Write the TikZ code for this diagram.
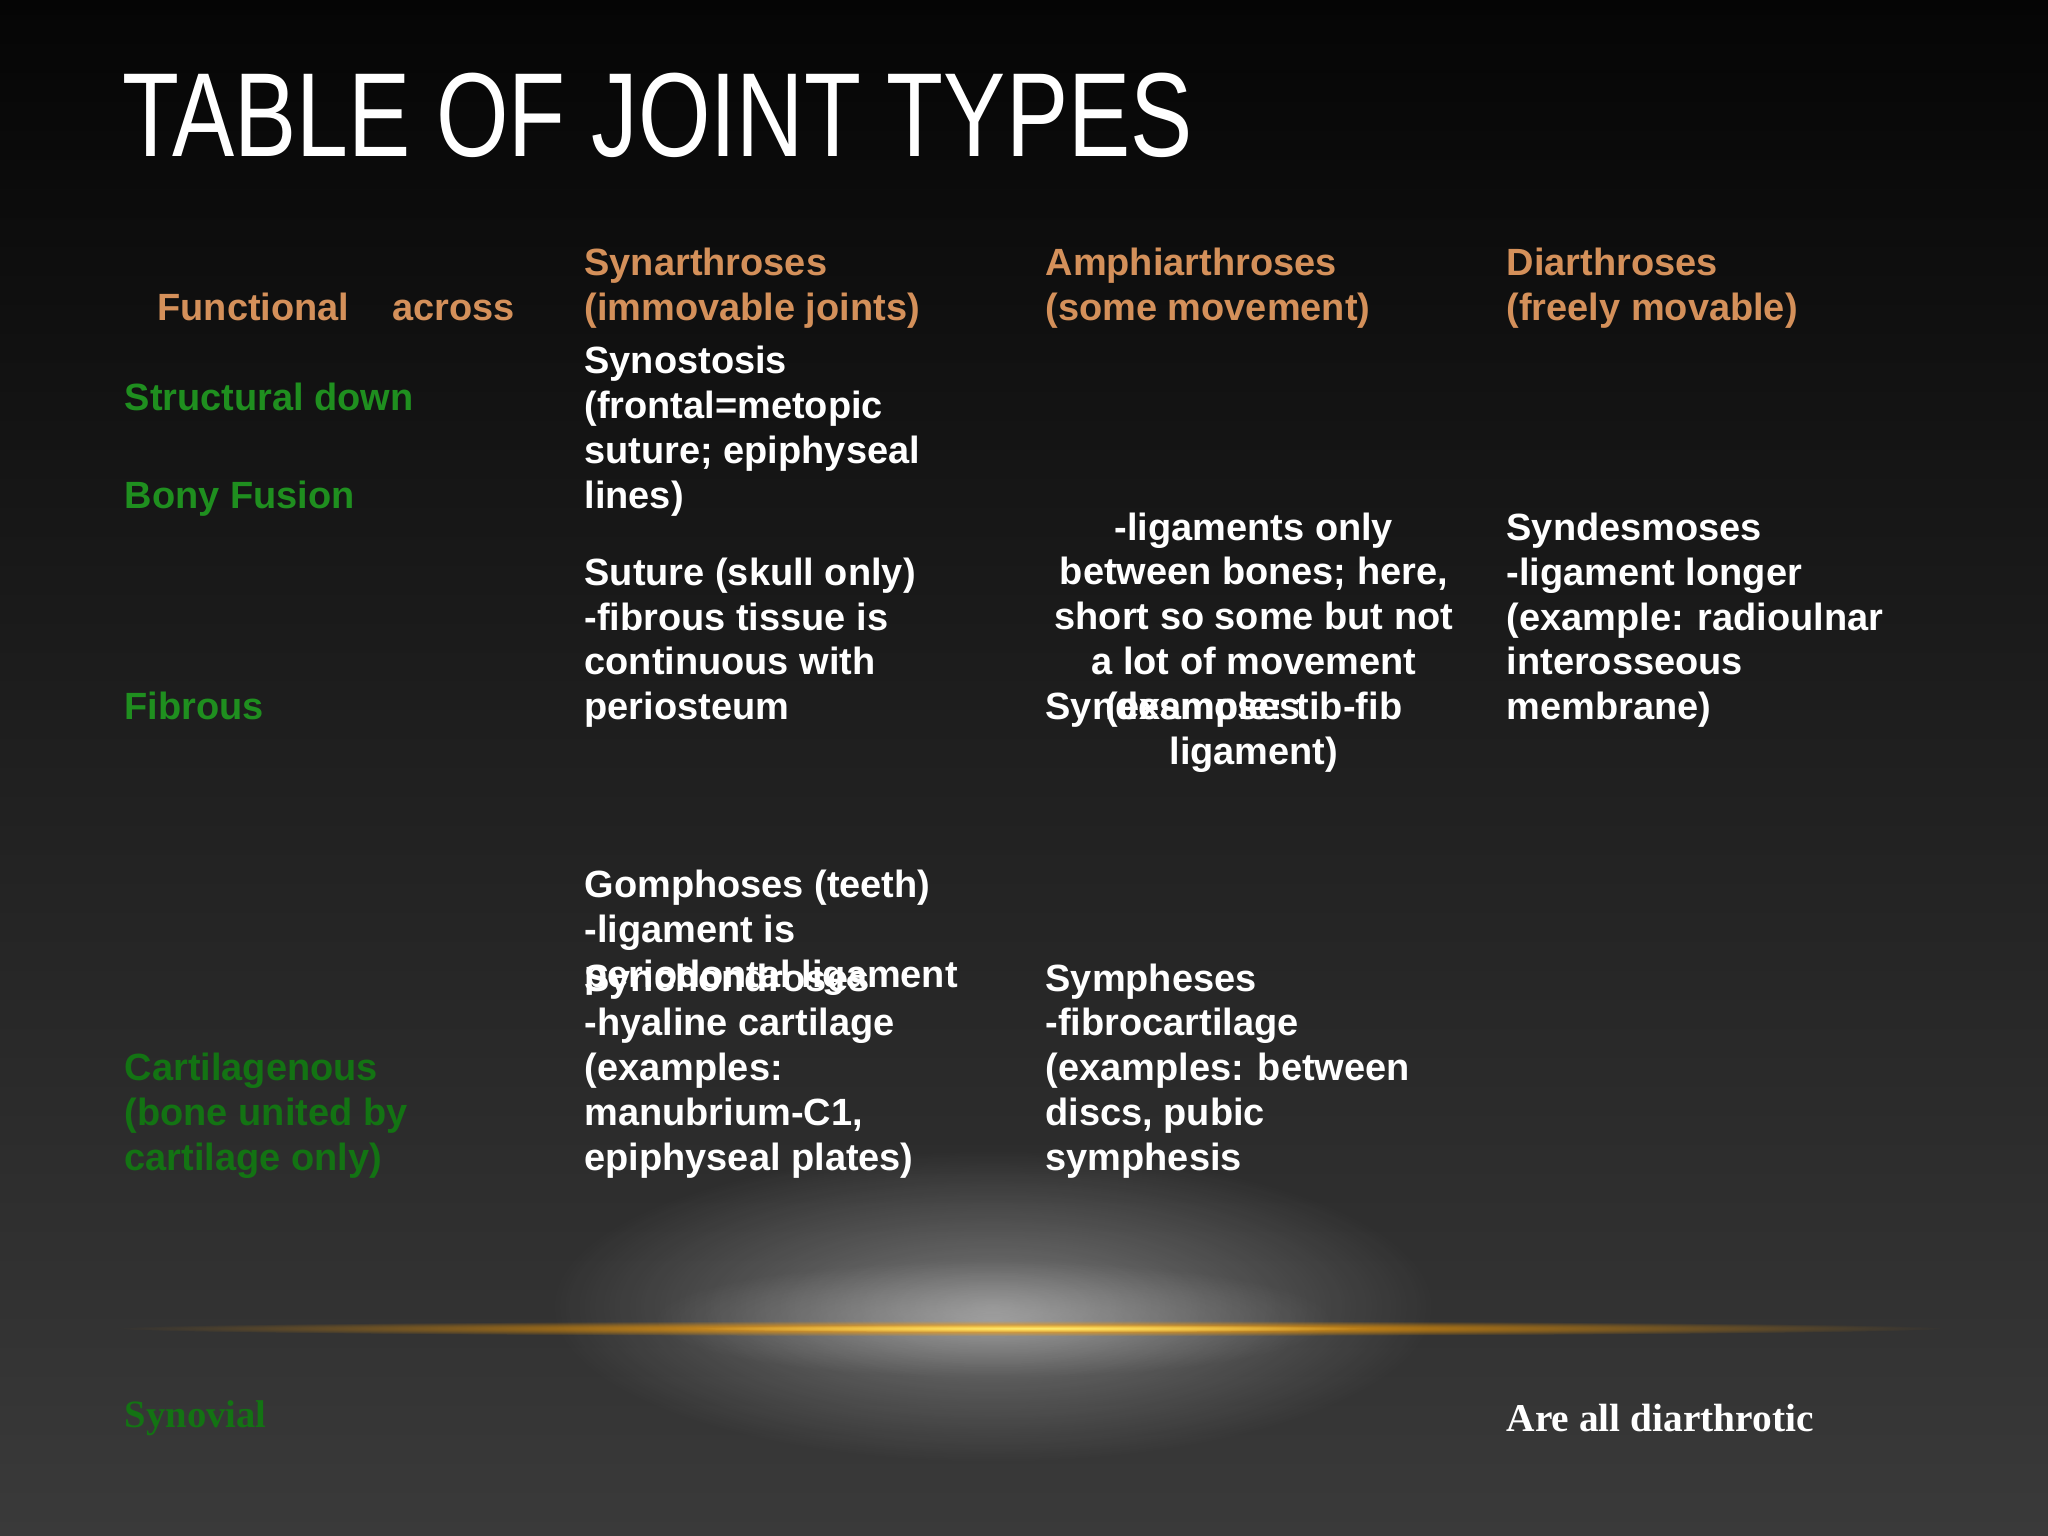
\documentclass[tikz,border=0pt]{standalone}
\usepackage{fontspec}
\setmainfont{Liberation Sans}
\newfontfamily\serifb{Liberation Serif}
\usetikzlibrary{fadings}
\tikzfading[name=glowfade, inner color=transparent!0, outer color=transparent!100]
\definecolor{tan}{HTML}{D4905A}
\definecolor{grn}{HTML}{1F8F1F}
\definecolor{dgrn}{HTML}{137313}
\definecolor{bgtop}{HTML}{050505}
\definecolor{bgbot}{HTML}{3A3A3A}
\tikzset{
  txt/.style={anchor=north west,inner sep=0pt,align=left,text height=8pt,font=\bfseries\fontsize{10.8}{12.75}\selectfont,text=white},
  hd/.style={txt,text=tan},
  sg/.style={txt,text=grn}
}
\begin{document}
\begin{tikzpicture}[x=0.013061cm,y=-0.013061cm]
\shade[top color=bgtop,bottom color=bgbot] (0,0) rectangle (1568,1176);
\useasboundingbox (0,0) rectangle (1568,1176);
% glow
\fill[white,opacity=0.35,path fading=glowfade] (760,1000) ellipse (340 and 120);
\fill[white,opacity=0.3,path fading=glowfade] (760,1010) ellipse (260 and 45);
\fill[orange!75!yellow,path fading=glowfade] (790,1017) ellipse (700 and 6);
\fill[yellow!50!white,opacity=0.9,path fading=glowfade] (790,1017) ellipse (260 and 3);
\node[anchor=west,inner sep=0pt,text=white] (title) at (93,88) {\scalebox{0.78}[1]{\fontsize{34}{34}\selectfont TABLE OF JOINT TYPES}};
\node[hd] (fa) at (120,223) {Functional};
\node[hd] (fb) at (300,223) {across};
\node[hd] (syn) at (447,223) {Synarthroses\\(immovable joints)};
\node[hd] (amp) at (800,223) {Amphiarthroses\\(some movement)};
\node[hd] (dia) at (1153,223) {Diarthroses\\(freely movable)};
\node[sg] (sd) at (95,292) {Structural down};
\node[sg] (bf) at (95,367) {Bony Fusion};
\node[txt] (synos) at (447,367) {Synostosis\\(frontal=metopic\\suture; epiphyseal\\lines)};
\node[sg] (fib) at (95,529) {Fibrous};
\node[txt] (sut) at (447,529) {Suture (skull only)\\-fibrous tissue is\\continuous with\\periosteum};
\node[txt] (sdA) at (800,529) {Syndesmoses};
\node[txt,anchor=north,align=center] (sdB) at (960,563) {-ligaments only\\between bones; here,\\short so some but not\\a lot of movement\\(example: tib-fib\\ligament)};
\node[txt] (sdD) at (1153,529) {Syndesmoses\\-ligament longer\\(example: radioulnar\\interosseous\\membrane)};
\node[txt] (gom) at (447,734) {Gomphoses (teeth)\\-ligament is\\periodontal ligament};
\node[sg,text=dgrn] (cart) at (95,874) {Cartilagenous\\(bone united by\\cartilage only)};
\node[txt] (sync) at (447,874) {Synchondroses\\-hyaline cartilage\\(examples:\\manubrium-C1,\\epiphyseal plates)};
\node[txt] (symp) at (800,874) {Sympheses\\-fibrocartilage\\(examples: between\\discs, pubic\\symphesis};
\node[anchor=west,inner sep=0pt,text=dgrn,font=\serifb\bfseries\fontsize{11}{13}\selectfont] (synov) at (95,1086) {Synovial};
\node[anchor=west,inner sep=0pt,text=white,font=\serifb\bfseries\fontsize{11.2}{13}\selectfont] (all) at (1153,1086) {Are all diarthrotic};
\end{tikzpicture}
\end{document}
